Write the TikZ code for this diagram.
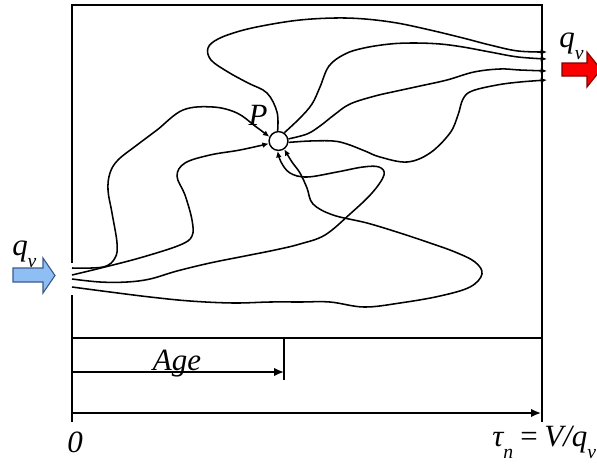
\documentclass[tikz,border=0pt]{standalone}
\usepackage{fontspec}
\setmainfont{Liberation Serif}
\usetikzlibrary{arrows.meta,positioning}
\definecolor{inblue}{RGB}{143,190,245}
\definecolor{inblueline}{RGB}{60,90,140}
\definecolor{outred}{RGB}{250,0,0}
\definecolor{outredline}{RGB}{130,0,0}
\newcommand{\lowsub}[1]{\raisebox{-0.4em}{\fontsize{14}{14}\selectfont #1}}
\tikzset{
  frame/.style   = {line width=1.4pt},
  stream/.style  = {line width=1.1pt},
  flow/.style    = {line width=1.1pt, -{Latex[length=4.5pt,width=4pt]}},
  timeax/.style  = {line width=1.2pt, -{Latex[length=7pt,width=6pt]}},
  lab/.style     = {font=\fontsize{22}{24}\selectfont\itshape, inner sep=0pt},
  point/.style   = {circle, draw, line width=1pt, fill=white, inner sep=0pt,
                    minimum size=4.7mm},
  bigin/.style   = {draw=inblueline, fill=inblue, line width=0.8pt},
  bigout/.style  = {draw=outredline, fill=outred, line width=0.8pt},
}
\begin{document}
\begin{tikzpicture}[x=0.025cm,y=-0.025cm]
  \useasboundingbox (0,0) rectangle (597,468);
  \clip (0,0) rectangle (597,468);
  \draw[frame] (72,263) -- (72,5) -- (542,5) -- (542,422);
  \draw[frame] (72,295) -- (72,422);
  \draw[frame] (72,338) -- (542,338);
  \foreach \n/\y in {1/268,2/275,3/279,4/287}
    {\coordinate (in\n) at (72,\y);}
  \foreach \n/\y in {1/52,2/59,3/71,4/80}
    {\coordinate (out\n) at (547,\y);}
  \node[point] (P) at (278.5,141) {};
  \node[lab] (plab) at (258,115) {P};
  % streams into P
  \draw[flow] plot[smooth, tension=0.6] coordinates {(in1) (103,267) (115,258) (117,243)
    (112,213) (108,190) (110,173) (118,160) (137,145) (157,130) (183,110) (213,107)
    (237,113) (255,126) (P.155)};
  \draw[flow] plot[smooth, tension=0.6] coordinates {(in2) (105,267) (143,257) (180,245)
    (192,236) (192,220) (185,195) (177,176) (185,163) (210,155) (240,150) (P.195)};
  \draw[flow] plot[smooth, tension=0.6] coordinates {(in3) (100,282) (127,282) (150,279)
    (177,271) (210,263) (245,256) (275,250) (300,244) (325,235) (350,214) (372,193)
    (384,175) (379,167) (363,167) (337,172) (307,177) (290,173) (281,162) (P.265)};
  \draw[flow] plot[smooth, tension=0.6] coordinates {(in4) (110,292) (150,297) (190,301)
    (233,303) (270,302) (300,302) (330,302) (364,307) (400,303) (440,296) (470,287)
    (482,274) (475,262) (455,252) (430,243) (400,233) (367,223) (333,215) (313,204)
    (307,188) (300,173) (292,162) (P.305)};
  % streams out of P
  \draw[flow] plot[smooth, tension=0.6] coordinates {(P.95) (277,112) (267,93) (248,83)
    (228,72) (211,60) (208,48) (218,39) (240,31) (267,25) (300,20) (335,18) (365,19)
    (397,23) (430,30) (463,38) (490,45) (518,51) (out1)};
  \draw[flow] plot[smooth, tension=0.6] coordinates {(P.55) (300,118) (312,104) (320,87)
    (329,66) (345,54) (364,48) (390,44) (414,43) (440,44) (463,47) (490,52) (518,57)
    (out2)};
  \draw[flow] plot[smooth, tension=0.6] coordinates {(P.12) (307,134) (320,126) (334,115)
    (350,104) (375,96) (397,91) (420,86) (447,80) (474,72) (500,69) (520,70) (out3)};
  \draw[flow] plot[smooth, tension=0.6] coordinates {(P.-8) (310,141) (333,141) (347,144)
    (365,151) (380,157) (407,162) (430,153) (450,133) (458,115) (463,99) (472,91)
    (497,85) (520,82) (out4)};
  % inlet and outlet
  \draw[bigin] (13,268) -- (43,268) -- (43,258) -- (55,275.5) -- (43,293) -- (43,282)
    -- (13,282) -- cycle;
  \draw[bigout] (562,63) -- (587,63) -- (587,52) -- (601,69.5) -- (587,87) -- (587,76)
    -- (562,76) -- cycle;
  \node[lab, anchor=base west] (qin) at (12,255) {q\lowsub{v}};
  \node[lab, anchor=base west] (qout) at (559,47) {q\lowsub{v}};
  % age axis
  \coordinate (a0) at (72,372);
  \coordinate (a1) at (284,372);
  \coordinate (t0) at (72,413);
  \coordinate (t1) at (541,413);
  \draw[timeax] (a0) -- (a1);
  \draw[frame] (284,338) -- (284,380);
  \draw[timeax] (t0) -- (t1);
  \node[lab, anchor=base] (age) at (177,370) {Age};
  \node[lab, anchor=base] (zero) at (75,452) {0};
  \node[lab, anchor=base west] (tau) at (492,446) {τ\lowsub{n}\,=\,V/q\lowsub{v}};
\end{tikzpicture}
\end{document}
